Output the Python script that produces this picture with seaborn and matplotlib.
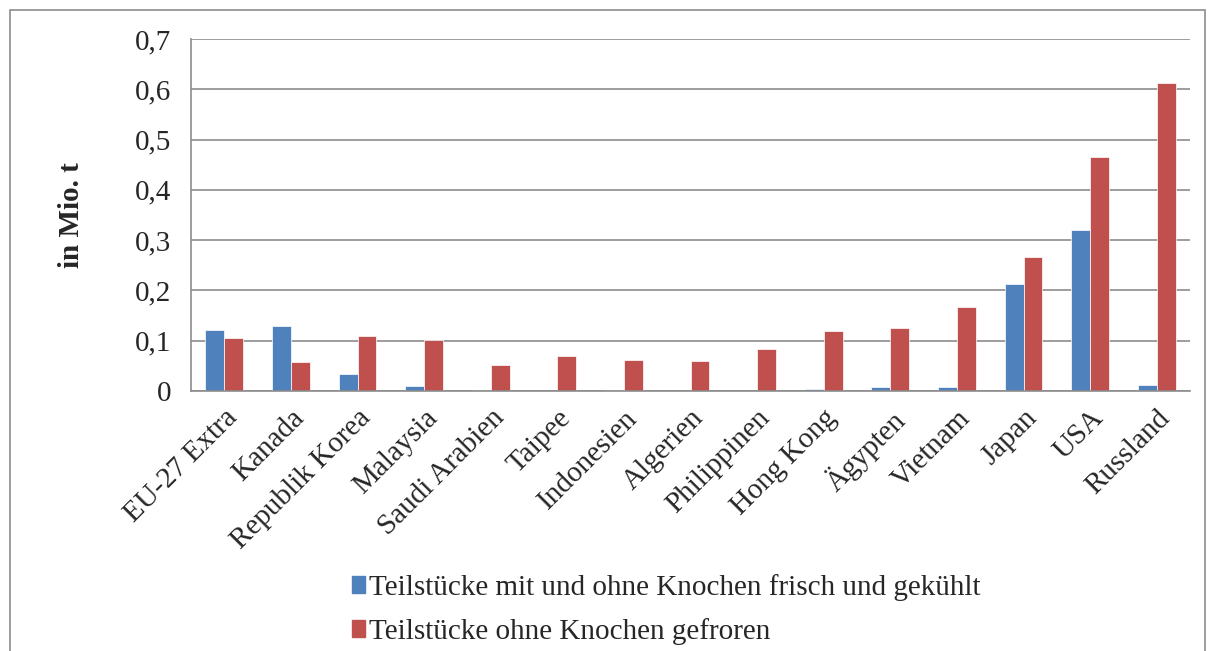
import matplotlib
matplotlib.use("Agg")
import matplotlib.pyplot as plt
import matplotlib.patches as mpatches
from matplotlib.ticker import FixedLocator, FuncFormatter
import seaborn as sns
import pandas as pd

# Daten (in Mio. t)
laender = ["EU-27 Extra", "Kanada", "Republik Korea", "Malaysia", "Saudi Arabien",
           "Taipee", "Indonesien", "Algerien", "Philippinen", "Hong Kong",
           "Ägypten", "Vietnam", "Japan", "USA", "Russland"]
frisch = [0.121, 0.130, 0.034, 0.0095, 0.002, 0.0, 0.002, 0.0, 0.0, 0.004,
          0.008, 0.0075, 0.213, 0.321, 0.011]
gefroren = [0.105, 0.058, 0.109, 0.101, 0.052, 0.069, 0.062, 0.059, 0.083, 0.120,
            0.125, 0.167, 0.266, 0.466, 0.612]
serien = ["Teilstücke mit und ohne Knochen frisch und gekühlt",
          "Teilstücke ohne Knochen gefroren"]
farben = ["#4F81BD", "#C0504D"]

df = pd.DataFrame({
    "Land": laender * 2,
    "Wert": frisch + gefroren,
    "Serie": [serien[0]] * len(laender) + [serien[1]] * len(laender),
})

sns.set_style("white")
plt.rcParams["font.family"] = ["Liberation Serif", "DejaVu Serif"]

fig = plt.figure(figsize=(12.12, 6.51), dpi=100)
ax = fig.add_axes([191 / 1212, 1 - 391 / 651, (1190 - 191) / 1212, (391 - 39) / 651])

sns.barplot(data=df, x="Land", y="Wert", hue="Serie", palette=farben,
            width=0.57, gap=0, ax=ax, legend=False, edgecolor="white", linewidth=0.5,
            saturation=1)

ax.set_ylim(0, 0.7)
ax.set_xlim(-0.5, len(laender) - 0.5)
ax.yaxis.set_major_locator(FixedLocator([i / 10 for i in range(8)]))
ax.yaxis.set_major_formatter(FuncFormatter(lambda v, p: "0" if v == 0 else f"{v:.1f}".replace(".", ",")))
ax.grid(axis="y", color="#8c8c8c", linewidth=1.2)
ax.set_axisbelow(True)

for s in ["top", "right"]:
    ax.spines[s].set_visible(False)
for s in ["left", "bottom"]:
    ax.spines[s].set_color("#8c8c8c")
    ax.spines[s].set_linewidth(1.2)

ax.tick_params(axis="y", length=8, width=1.2, color="#8c8c8c", labelsize=21, pad=6)
ax.set_xticks(range(len(laender)))
ax.set_xticklabels(laender, rotation=45, ha="right", rotation_mode="anchor", fontsize=21)
ax.tick_params(axis="x", which="major", length=0, pad=10)
ax.set_xticks([i - 0.5 for i in range(len(laender) + 1)], minor=True)
ax.tick_params(axis="x", which="minor", length=8, width=1.2, color="#8c8c8c")

ax.set_xlabel("")
ax.set_ylabel("in Mio. t", fontsize=21, fontweight="bold", labelpad=36)

handles = [mpatches.Patch(color=c, label=l) for c, l in zip(farben, serien)]
fig.legend(handles=handles, loc="upper left", bbox_to_anchor=(337 / 1212, 1 - 559 / 651),
           frameon=False, fontsize=21, handlelength=0.45, handleheight=0.5,
           handletextpad=0.15, labelspacing=0.6, borderpad=0)

# Rahmen um das Diagramm
fig.patches.append(mpatches.Rectangle((10 / 1212, -0.05), (1205 - 10) / 1212, 1.05 - 10 / 651,
                                      transform=fig.transFigure, fill=False,
                                      edgecolor="#8c8c8c", linewidth=1.2))

fig.savefig("out.png", dpi=100)
